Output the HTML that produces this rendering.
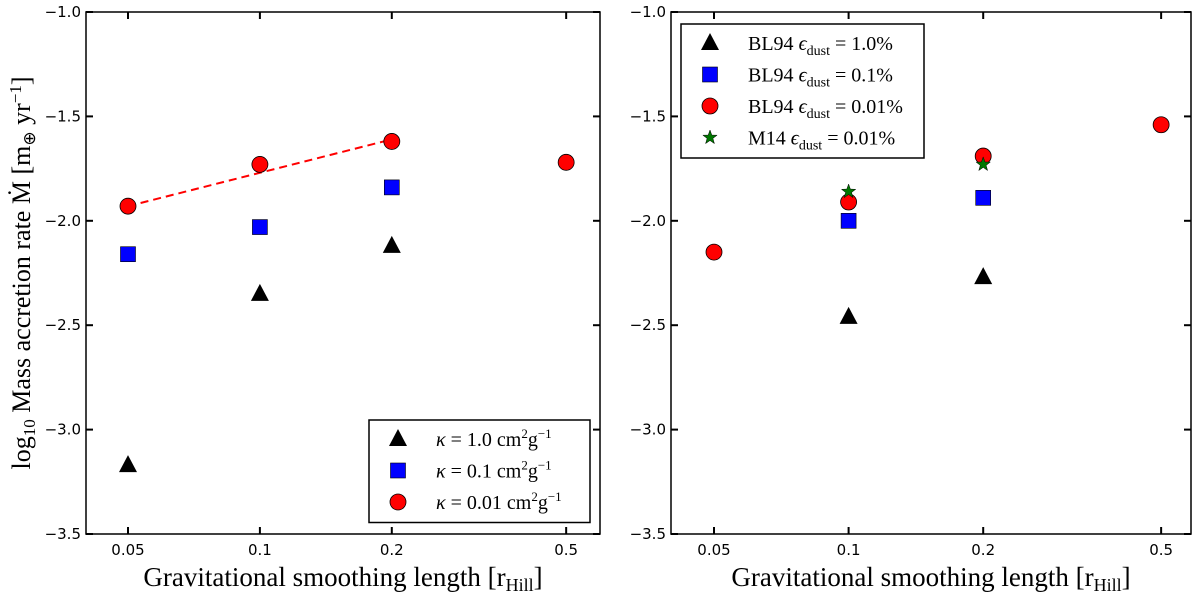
<!DOCTYPE html>
<html><head><meta charset="utf-8"><style>
body{margin:0;background:#fff}
svg text{font-family:"DejaVu Sans",sans-serif}
.serif{font-family:"Liberation Serif",serif}
</style></head><body>
<svg id="chart" width="1200" height="595" xmlns="http://www.w3.org/2000/svg"></svg>
<script>
const yTicks=[-1.0,-1.5,-2.0,-2.5,-3.0,-3.5];
const xTicks=[0.05,0.1,0.2,0.5];
const xTickLabels=["0.05","0.1","0.2","0.5"];
const leftX=[0.05,0.1,0.2,0.5];
const leftRed=[-1.93,-1.73,-1.62,-1.72];
const leftBlueX=[0.05,0.1,0.2];
const leftBlue=[-2.16,-2.03,-1.84];
const leftBlackX=[0.05,0.1,0.2];
const leftBlack=[-3.17,-2.35,-2.12];
const fitX=[0.05,0.2];
const fitY=[-1.93,-1.61];
const rightRedX=[0.05,0.1,0.2,0.5];
const rightRed=[-2.15,-1.91,-1.69,-1.54];
const rightBlueX=[0.1,0.2];
const rightBlue=[-2.00,-1.89];
const rightBlackX=[0.1,0.2];
const rightBlack=[-2.46,-2.27];
const rightGreenX=[0.1,0.2];
const rightGreen=[-1.86,-1.73];

const NS="http://www.w3.org/2000/svg";
const svg=document.getElementById('chart');
function mk(tag,attrs,parent){const e=document.createElementNS(NS,tag);for(const k in attrs)e.setAttribute(k,attrs[k]);(parent||svg).appendChild(e);return e;}
const yTop=12,yBot=534;
function yS(v){return yTop+(-1.0-v)/2.5*(yBot-yTop);}
function makeX(x005,per2,left,right){return {f:v=>x005+Math.log2(v/0.05)*per2,left:left,right:right};}
const panels=[makeX(128,131.9,86,600),makeX(714,134.6,671,1191)];

function tri(g,cx,cy,name){const p=mk('polygon',{points:`${cx},${cy-10} ${cx-9},${cy+7} ${cx+9},${cy+7}`,fill:'#000'},g);

}
function sq(g,cx,cy,name){const p=mk('rect',{x:cx-7.5,y:cy-7.5,width:15,height:15,fill:'#0000ff',stroke:'#000','stroke-width':0.6},g);

}
function circ(g,cx,cy,name){const p=mk('circle',{cx:cx,cy:cy,r:8,fill:'#ff0000',stroke:'#000','stroke-width':0.8},g);

}
function star(g,cx,cy,name){let pts=[];for(let i=0;i<10;i++){const r=i%2?3:7.5,a=-Math.PI/2+i*Math.PI/5;pts.push((cx+r*Math.cos(a)).toFixed(1)+','+(cy+r*Math.sin(a)).toFixed(1));}
const p=mk('polygon',{points:pts.join(' '),fill:'#007700',stroke:'#000','stroke-width':0.5},g);

}

panels.forEach((P,pi)=>{
  const g=mk('g',{});
  
  
  yTicks.forEach(t=>{const y=yS(t);
    mk('line',{x1:P.left,x2:P.left+7,y1:y,y2:y,stroke:'#000','stroke-width':2},g);
    mk('line',{x1:P.right,x2:P.right-7,y1:y,y2:y,stroke:'#000','stroke-width':2},g);
    const tx=mk('text',{x:P.left-5,y:y+5,'text-anchor':'end','font-size':15},g);tx.textContent=(t<0?'\u2212':'')+Math.abs(t).toFixed(1);
    
    });
  xTicks.forEach((t,i)=>{const x=P.f(t);
    mk('line',{x1:x,x2:x,y1:yBot,y2:yBot-7,stroke:'#000','stroke-width':2},g);
    mk('line',{x1:x,x2:x,y1:yTop,y2:yTop+7,stroke:'#000','stroke-width':2},g);
    const tx=mk('text',{x:x,y:yBot+21,'text-anchor':'middle','font-size':15},g);tx.textContent=xTickLabels[i];
    
    });
  mk('rect',{x:P.left,y:yTop,width:P.right-P.left,height:yBot-yTop,fill:'none',stroke:'#000','stroke-width':1.5},g);
  const xl=mk('text',{x:(P.left+P.right)/2,y:586,'text-anchor':'middle','font-size':27,class:'serif'},g);
  xl.innerHTML='Gravitational smoothing length [r<tspan font-size="18" dy="5">Hill</tspan><tspan dy="-5">]</tspan>';
  
  
});
const L=panels[0],R=panels[1];
const fit=mk('line',{x1:L.f(fitX[0]),y1:yS(fitY[0]),x2:L.f(fitX[1]),y2:yS(fitY[1]),stroke:'#ff0000','stroke-width':2,'stroke-dasharray':'8,5'});


leftBlackX.forEach((x,i)=>tri(svg,L.f(x),yS(leftBlack[i]),'point-kappa-1'));
leftBlueX.forEach((x,i)=>sq(svg,L.f(x),yS(leftBlue[i]),'point-kappa-0.1'));
leftX.forEach((x,i)=>circ(svg,L.f(x),yS(leftRed[i]),'point-kappa-0.01'));
rightBlackX.forEach((x,i)=>tri(svg,R.f(x),yS(rightBlack[i]),'point-bl94-1'));
rightBlueX.forEach((x,i)=>sq(svg,R.f(x),yS(rightBlue[i]),'point-bl94-0.1'));
rightRedX.forEach((x,i)=>circ(svg,R.f(x),yS(rightRed[i]),'point-bl94-0.01'));
rightGreenX.forEach((x,i)=>star(svg,R.f(x),yS(rightGreen[i]),'point-m14-0.01'));

function legend(x,y,w,rows,name){
  const g=mk('g',{});
  
  
  mk('rect',{x:x,y:y,width:w,height:rows.length*31.5+8,fill:'#fff',stroke:'#000','stroke-width':1.5},g);
  rows.forEach((r,i)=>{const cy=y+19+i*31.5;
    r[0](g,x+29,cy,'legend-marker');
    const t=mk('text',{x:x+67,y:cy+7,'font-size':20,class:'serif'},g);t.innerHTML=r[1];
    
    });
}
const eps='<tspan font-style="italic">ϵ</tspan><tspan font-size="14" dy="5">dust</tspan><tspan dy="-5"> = </tspan>';
legend(681,24,243,[[tri,'BL94 '+eps+'1.0%'],[sq,'BL94 '+eps+'0.1%'],[circ,'BL94 '+eps+'0.01%'],[star,'M14 '+eps+'0.01%']],'legend-right');
const kap=v=>'<tspan font-style="italic">κ</tspan> = '+v+' cm<tspan font-size="13" dy="-8">2</tspan><tspan dy="8">g</tspan><tspan font-size="13" dy="-8">−1</tspan>';
legend(369,420,221,[[tri,kap('1.0')],[sq,kap('0.1')],[circ,kap('0.01')]],'legend-left');

const yl=mk('text',{x:0,y:0,'text-anchor':'middle','font-size':26,class:'serif',transform:'translate(30,273) rotate(-90)'});
yl.innerHTML='log<tspan font-size="17" dy="5">10</tspan><tspan dy="-5"> Mass accretion rate Ṁ [m</tspan><tspan font-size="17" dy="5">⊕</tspan><tspan dy="-5"> yr</tspan><tspan font-size="17" dy="-9">−1</tspan><tspan dy="9">]</tspan>';


</script>
</body></html>
